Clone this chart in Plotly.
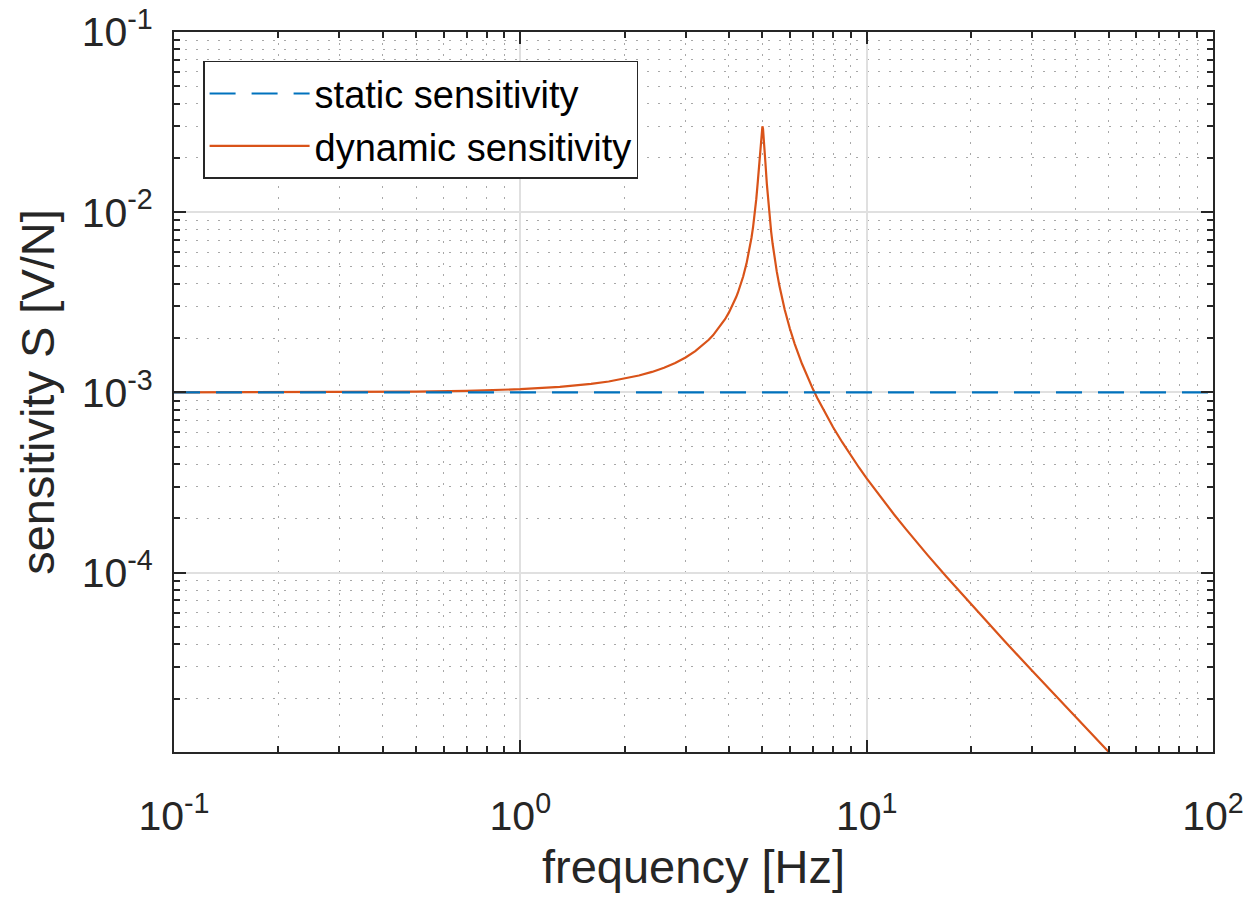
import plotly.graph_objects as go

# frequency [Hz] / sensitivity [V/N]
static_f = [0.1, 100]
static_s = [1.0e-3, 1.0e-3]

dyn_f = [0.1, 0.2, 0.3, 0.5, 0.7, 1.0, 1.3, 1.6, 1.8, 2.0, 2.2, 2.4, 2.6, 2.8, 3.0,
         3.2, 3.4, 3.5, 3.6, 3.8, 3.9, 4.0, 4.1, 4.2, 4.25, 4.3, 4.35, 4.4, 4.5,
         4.55, 4.6, 4.65, 4.7, 4.75, 4.8, 4.85, 4.9, 4.92, 4.95, 4.98, 5.0, 5.02,
         5.05, 5.08, 5.1, 5.15, 5.2, 5.25, 5.3, 5.35, 5.4, 5.5, 5.6, 5.7, 5.8, 6.0,
         6.2, 6.5, 6.8, 7.0, 7.2, 7.5, 8.0, 8.5, 9.0, 9.5, 10, 11, 12, 13, 14, 15,
         17, 20, 25, 30, 35, 40, 45, 50]
dyn_s = [1.000e-3, 1.002e-3, 1.004e-3, 1.010e-3, 1.020e-3, 1.042e-3, 1.073e-3,
         1.114e-3, 1.149e-3, 1.190e-3, 1.240e-3, 1.299e-3, 1.371e-3, 1.457e-3,
         1.562e-3, 1.694e-3, 1.859e-3, 1.959e-3, 2.074e-3, 2.363e-3, 2.548e-3,
         2.770e-3, 3.042e-3, 3.382e-3, 3.585e-3, 3.817e-3, 4.085e-3, 4.396e-3,
         5.199e-3, 5.729e-3, 6.384e-3, 7.215e-3, 8.296e-3, 9.755e-3, 1.181e-2,
         1.484e-2, 1.948e-2, 2.191e-2, 2.595e-2, 2.929e-2, 3.000e-2, 2.906e-2,
         2.550e-2, 2.138e-2, 1.894e-2, 1.430e-2, 1.128e-2, 9.233e-3, 7.779e-3,
         6.701e-3, 5.874e-3, 4.691e-3, 3.889e-3, 3.311e-3, 2.876e-3, 2.263e-3,
         1.855e-3, 1.446e-3, 1.175e-3, 1.040e-3, 9.305e-4, 7.994e-4, 6.407e-4,
         5.289e-4, 4.463e-4, 3.830e-4, 3.333e-4, 2.604e-4, 2.101e-4, 1.736e-4,
         1.462e-4, 1.250e-4, 9.470e-5, 6.666e-5, 4.167e-5, 2.857e-5, 2.083e-5,
         1.587e-5, 1.250e-5, 1.010e-5]

x_ticks = [0.1, 1, 10, 100]
x_labels = ['10<sup>-1</sup>', '10<sup>0</sup>', '10<sup>1</sup>', '10<sup>2</sup>']
y_ticks = [1e-4, 1e-3, 1e-2, 1e-1]
y_labels = ['10<sup>-4</sup>', '10<sup>-3</sup>', '10<sup>-2</sup>', '10<sup>-1</sup>']

blue = '#0072BD'
orange = '#D95319'
ink = '#262626'
font = 'Liberation Sans, Arial, Helvetica, sans-serif'

fig = go.Figure()
fig.add_trace(go.Scatter(x=dyn_f, y=dyn_s, mode='lines', name='dynamic sensitivity',
                         line=dict(color=orange, width=2.2), legendrank=2))
fig.add_trace(go.Scatter(x=static_f, y=static_s, mode='lines', name='static sensitivity',
                         line=dict(color=blue, width=2.2, dash='26px,16px'), legendrank=1))

def minor_vals(lo, hi):
  vals = []
  for e in range(lo, hi):
    vals += [k * 10 ** e for k in range(2, 10)]
  return vals

axis_common = dict(
  type='log',
  tickmode='array',
  automargin=False,
  ticklabeloverflow='allow',
  showline=True, linecolor=ink, linewidth=2, mirror='allticks',
  ticks='inside', ticklen=12, tickwidth=2, tickcolor=ink,
  showgrid=True, gridcolor='#e0e0e0', gridwidth=1.5,
  zeroline=False,
  tickfont=dict(family=font, size=41, color=ink),
)
minor_common = dict(tickmode='array', ticks='inside', ticklen=6, tickwidth=1.5,
                    tickcolor=ink, showgrid=True, griddash='2px,9px',
                    gridcolor='#a8a8a8', gridwidth=1.2)

fig.update_xaxes(
  **axis_common,
  range=[-1, 2],
  tickvals=x_ticks, ticktext=x_labels,
  ticklabelstandoff=27,
  minor=dict(tickvals=minor_vals(-1, 2), **minor_common),
  title=dict(text='frequency [Hz]', font=dict(family=font, size=47, color=ink), standoff=12),
)
fig.update_yaxes(
  **axis_common,
  range=[-4.9957, -1],
  tickvals=y_ticks, ticktext=y_labels,
  ticklabelstandoff=11,
  minor=dict(tickvals=minor_vals(-5, -1), **minor_common),
  title=dict(text='sensitivity S [V/N]', font=dict(family=font, size=47, color=ink), standoff=12),
)

# the page body adds an 8 px offset, so the figure is drawn 8 px smaller
fig.update_layout(
  width=1250, height=889,
  margin=dict(l=166, r=45, t=24, b=145),
  plot_bgcolor='white', paper_bgcolor='white',
  legend=dict(x=0.028, y=0.96, xanchor='left', yanchor='top',
              bgcolor='white', bordercolor=ink, borderwidth=1.5,
              font=dict(family=font, size=38, color='black'),
              itemwidth=100, tracegroupgap=0),
  showlegend=True,
)

fig.write_html('out.html')
